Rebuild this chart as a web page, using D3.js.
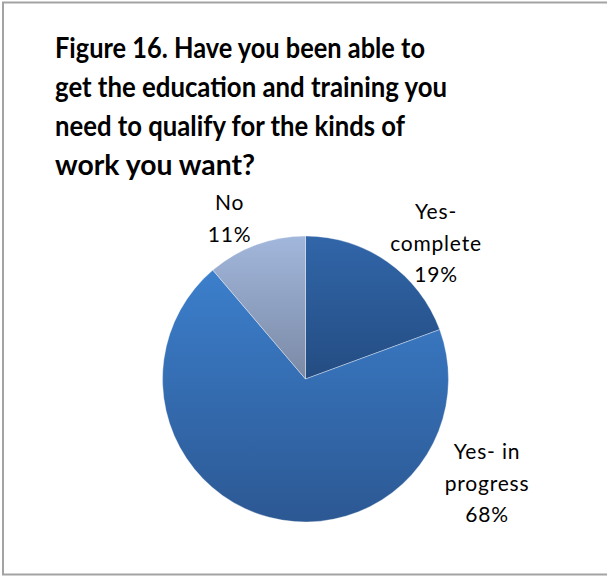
<!DOCTYPE html>
<html>
<head>
<meta charset="utf-8">
<script src="https://cdn.jsdelivr.net/npm/d3@7"></script>
<style>
  html, body { margin: 0; padding: 0; background: #fff; }
  svg { display: block; }
</style>
</head>
<body>
<svg id="chart" width="607" height="579"></svg>
<script>
// Survey answers, clockwise from 12 o'clock
const categories = ["Yes-\ncomplete", "Yes- in\nprogress", "No"];
const values = [19, 68, 11];
const titleLines = [
  "Figure 16. Have you been able to",
  "get the education and training you",
  "need to qualify for the kinds of",
  "work you want?"
];

// Slice fills: vertical gradient, lighter at the top
const fillTop = ["#3166a9", "#3c7fcc", "#a2b7dc"];
const fillBottom = ["#244c82", "#2c5893", "#7a89a5"];

const svg = d3.select("#chart");
const font = "Lato, 'Open Sans', sans-serif";

// Chart frame
svg.append("rect")
  .attr("x", 3).attr("y", 2.5)
  .attr("width", 640).attr("height", 572)
  .attr("fill", "#fff")
  .attr("stroke", "#a3a3a3")
  .attr("stroke-width", 2);

// Title, each line fitted to its set width
const titleWidths = [370, 392, 350, 200];
const title = svg.append("text")
  .attr("font-family", font)
  .attr("font-weight", 700)
  .attr("font-size", 28)
  .attr("fill", "#000");
title.selectAll("tspan")
  .data(titleLines)
  .join("tspan")
  .attr("x", 55)
  .attr("y", (d, i) => 58 + i * 39)
  .attr("textLength", (d, i) => titleWidths[i])
  .attr("lengthAdjust", "spacingAndGlyphs")
  .text(d => d);

// Pie
const cx = 305.5, cy = 379, radius = 143;
const defs = svg.append("defs");
values.forEach((v, i) => {
  const g = defs.append("linearGradient")
    .attr("id", "slice" + i)
    .attr("x1", 0).attr("y1", 0).attr("x2", 0).attr("y2", 1);
  g.append("stop").attr("offset", "0%").attr("stop-color", fillTop[i]);
  g.append("stop").attr("offset", "100%").attr("stop-color", fillBottom[i]);
});

const pie = d3.pie().sort(null).value(d => d);
const arc = d3.arc().innerRadius(0).outerRadius(radius);
const arcs = pie(values);

const pieG = svg.append("g").attr("transform", `translate(${cx},${cy})`);
pieG.selectAll("path")
  .data(arcs)
  .join("path")
  .attr("d", arc)
  .attr("fill", (d, i) => `url(#slice${i})`)
  .attr("stroke", "rgba(255,255,255,0.6)")
  .attr("stroke-width", 0.6);

// Data labels (category + percentage), placed beside each slice
const labelPos = [[436, 219], [487, 459], [229.5, 210]];
const lineGap = 31.5;
arcs.forEach((d, i) => {
  const lines = categories[i].split("\n").concat([d3.format(".0f")(values[i]) + "%"]);
  const t = svg.append("text")
    .attr("font-family", font)
    .attr("font-size", 21)
    .attr("letter-spacing", 0.8)
    .attr("fill", "#000")
    .attr("text-anchor", "middle");
  t.selectAll("tspan")
    .data(lines)
    .join("tspan")
    .attr("x", labelPos[i][0])
    .attr("y", (l, j) => labelPos[i][1] + j * lineGap)
    .text(l => l);
});
</script>
</body>
</html>
